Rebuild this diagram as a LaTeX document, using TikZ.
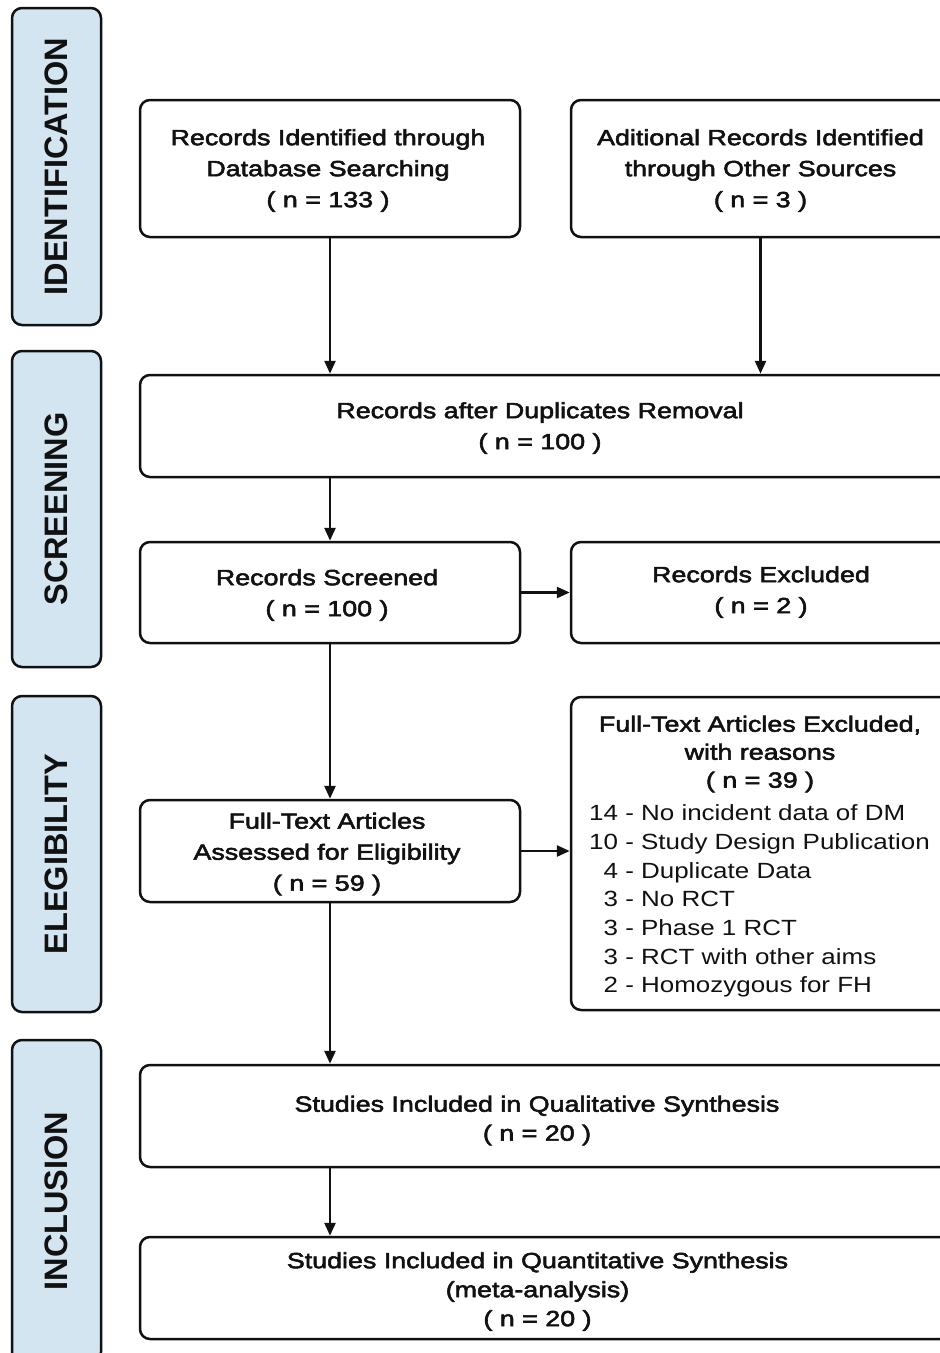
\documentclass[tikz,border=0pt]{standalone}
\usepackage{fontspec}
\setmainfont{Liberation Sans}[FakeStretch=1.18]
\newfontfamily\tfont{Liberation Sans}[FakeStretch=1.22,FakeBold=2.5]
\newfontfamily\sidefont{Liberation Sans}
\usetikzlibrary{arrows.meta}
\definecolor{sideblue}{HTML}{D3E5F0}
\definecolor{ink}{HTML}{111111}
\begin{document}
\begin{tikzpicture}[x=1pt,y=-1pt,
  side/.style={draw=ink, line width=2.5pt, rounded corners=10pt, fill=sideblue, rotate=90,
    minimum height=89pt, inner sep=0pt, font=\sidefont\bfseries\fontsize{32.5}{32.5}\selectfont, text=ink},
  box/.style={draw=ink, line width=2.5pt, rounded corners=10pt, fill=white, inner sep=0pt},
  txt/.style={align=center, inner sep=0pt, text=ink, font=\tfont\fontsize{22}{31}\selectfont},
  reasons/.style={align=left, inner sep=0pt, text=ink, font=\fontsize{22}{28.7}\selectfont},
  arr/.style={draw=ink, line width=2.6pt, -{Triangle[length=13pt,width=11pt]}}
]
\clip (0,0) rectangle (940,1353);
\fill[white] (0,0) rectangle (940,1353);

% side labels
\node[side, minimum width=317pt] (sid) at (56.5,166.5) {IDENTIFICATION};
\node[side, minimum width=316pt] (ssc) at (56.5,509) {SCREENING};
\node[side, minimum width=316pt] (sel) at (56.5,854) {ELEGIBILITY};
\node[side, minimum width=322pt] (sin) at (56.5,1201) {INCLUSION};

% boxes
\node[box, minimum width=380pt, minimum height=137pt] (b1) at (330,168.5) {};
\node[txt] (t1) at (328,170.5) {Records Identified through\\Database Searching\\( n = 133 )};

\node[box, minimum width=379pt, minimum height=137pt] (b2) at (760.5,168.5) {};
\node[txt] (t2) at (760.5,170.5) {Aditional Records Identified\\through Other Sources\\( n = 3 )};

\node[box, minimum width=810pt, minimum height=102pt] (b3) at (545,426) {};
\node[txt] (t3) at (540,428) {Records after Duplicates Removal\\( n = 100 )};

\node[box, minimum width=380pt, minimum height=101pt] (b4) at (330,592.5) {};
\node[txt] (t4) at (327,595) {Records Screened\\( n = 100 )};

\node[box, minimum width=379pt, minimum height=101pt] (b5) at (760.5,592.5) {};
\node[txt] (t5) at (761,592) {Records Excluded\\( n = 2 )};

\node[box, minimum width=380pt, minimum height=102pt] (b6) at (330,851) {};
\node[txt] (t6) at (327,854) {Full-Text Articles\\Assessed for Eligibility\\( n = 59 )};

\node[box, minimum width=379pt, minimum height=313pt] (b7) at (760.5,853.5) {};
\node[txt, font=\tfont\fontsize{22}{28}\selectfont] (t7) at (760,754) {Full-Text Articles Excluded,\\with reasons\\( n = 39 )};
\node[reasons, anchor=west] (r7) at (589,901) {14 - No incident data of DM\\10 - Study Design Publication\\\hphantom{1}4 - Duplicate Data\\\hphantom{1}3 - No RCT\\\hphantom{1}3 - Phase 1 RCT\\\hphantom{1}3 - RCT with other aims\\\hphantom{1}2 - Homozygous for FH};

\node[box, minimum width=810pt, minimum height=102pt] (b8) at (545,1116) {};
\node[txt, font=\tfont\fontsize{22}{29}\selectfont] (t8) at (537,1120.5) {Studies Included in Qualitative Synthesis\\( n = 20 )};

\node[box, minimum width=810pt, minimum height=102pt] (b9) at (545,1288) {};
\node[txt, font=\tfont\fontsize{22}{29}\selectfont] (t9) at (537.5,1291.5) {Studies Included in Quantitative Synthesis\\(meta-analysis)\\( n = 20 )};

% connectors
\draw[arr] (b1.south) -- (b1.south |- b3.north);
\draw[arr] (b2.south) -- (b2.south |- b3.north);
\draw[arr] (b4.north |- b3.south) -- (b4.north);
\draw[arr] (b4.east) -- (b4.east -| b5.west);
\draw[arr] (b4.south) -- (b6.north);
\draw[arr] (b6.east) -- (b6.east -| b7.west);
\draw[arr] (b6.south) -- (b6.south |- b8.north);
\draw[arr] (b6.south |- b8.south) -- (b6.south |- b9.north);
\end{tikzpicture}
\end{document}
